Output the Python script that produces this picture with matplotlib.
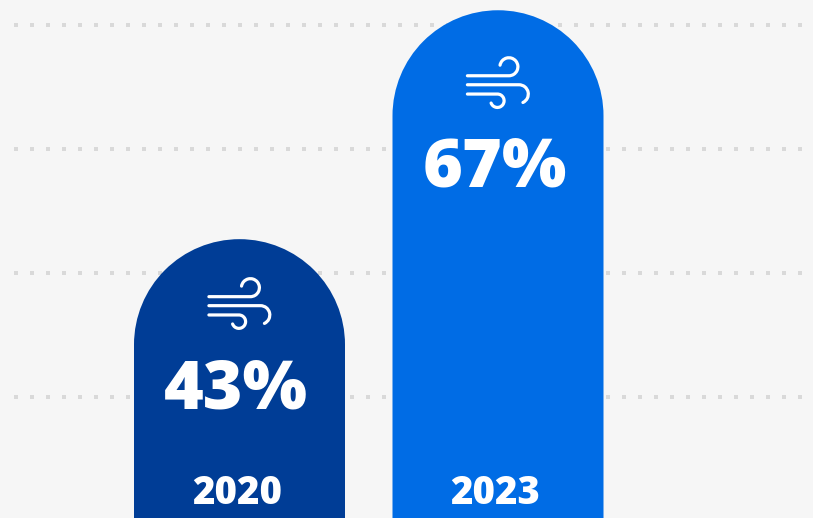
"""Rounded bars comparing the share of wind for two years."""

import matplotlib
matplotlib.use("Agg")
import matplotlib.pyplot as plt
from matplotlib.patches import PathPatch
from matplotlib.path import Path
from matplotlib.transforms import Affine2D

years = ["2020", "2023"]
shares = [43, 67]
grid_levels = [26.5, 39.5, 52.5, 65.5]

BG = "#f6f6f6"
DOT = "#d9d9d9"
BAR_COLORS = ["#003d96", "#006ce5"]
FONT = "Open Sans"

# figure pixels per data unit, and where data zero falls
PX_X = 258.5
PX_Y = 9.538
X0_PX = 239.5
Y0_PX = 649.3
W, H = 813, 518
BAR_W_PX = 211

# vertical offsets from the top of each bar, in pixels
ICON_DY = [57.5, 65.5]
VALUE_DY = [152, 159]
YEAR_Y_PX = 493


def x_data(px):
    return (px - X0_PX) / PX_X


def y_data(px):
    return (Y0_PX - px) / PX_Y


def rounded_bar(center, value, floor):
    """Bar with a full half circle on top, in data coordinates."""
    rx = BAR_W_PX / 2 / PX_X
    ry = BAR_W_PX / 2 / PX_Y
    arc = Path.arc(0, 180)
    arc = arc.transformed(Affine2D().scale(rx, ry).translate(center, value - ry))
    verts = list(arc.vertices) + [(center - rx, floor), (center + rx, floor), arc.vertices[0]]
    codes = list(arc.codes) + [Path.LINETO, Path.LINETO, Path.LINETO]
    return Path(verts, codes)


def stroke_with_curl(line_y, theta1, theta2, radius, cx, cy, clockwise):
    """Straight run from x=0 that rolls into a curl, in pixels with y down."""
    curve = Path.arc(theta1, theta2).transformed(Affine2D().scale(radius, -radius).translate(cx, cy))
    verts = [tuple(v) for v in curve.vertices]
    if clockwise:
        verts = verts[::-1]
    return Path([(0, line_y)] + verts, [Path.MOVETO, Path.LINETO] + list(curve.codes[1:]))


def wind_icon():
    return [
        stroke_with_curl(0, -90, 170, 9, 41.5, -9, False),
        stroke_with_curl(9, -65, 90, 9.3, 51.6, 18.3, True),
        stroke_with_curl(18.3, -160, 90, 6.7, 30, 25, True),
    ]


fig = plt.figure(figsize=(W / 100, H / 100), dpi=100, facecolor=BG)
ax = fig.add_axes([0, 0, 1, 1], facecolor=BG)
ax.set_xlim(x_data(0), x_data(W))
ax.set_ylim(y_data(H), y_data(0))
ax.axis("off")

# dash pattern is in line widths: 4 px dots on a 16 px pitch
ax.hlines(grid_levels, x_data(14), x_data(802), colors=DOT, linewidth=2.88,
          linestyles=(0, (1, 3)), capstyle="butt", zorder=1)

floor = y_data(H + 20)
for i, (year, share) in enumerate(zip(years, shares)):
    ax.add_patch(PathPatch(rounded_bar(i, share, floor), facecolor=BAR_COLORS[i],
                           edgecolor="none", zorder=2))

    # the bar top in pixels from the top edge of the figure
    top_px = Y0_PX - share * PX_Y
    ax.text(i - 0.013, y_data(top_px + VALUE_DY[i]), f"{share}%", color="white",
            family=FONT, weight=800, fontsize=49, ha="center", va="center", zorder=3)
    ax.text(i - 0.01, y_data(YEAR_Y_PX), year, color="white", family=FONT,
            weight=800, fontsize=27.5, ha="center", va="center", zorder=3)

    x_px = X0_PX + i * PX_X
    to_fig = Affine2D().scale(1, -1).translate(x_px - 30.6, H - (top_px + ICON_DY[i]))
    for stroke in wind_icon():
        ax.add_patch(PathPatch(stroke, transform=to_fig, facecolor="none", edgecolor="white",
                               linewidth=2.3, capstyle="round", joinstyle="round", zorder=3))

fig.savefig("out.png", dpi=100, facecolor=BG)
plt.close(fig)
